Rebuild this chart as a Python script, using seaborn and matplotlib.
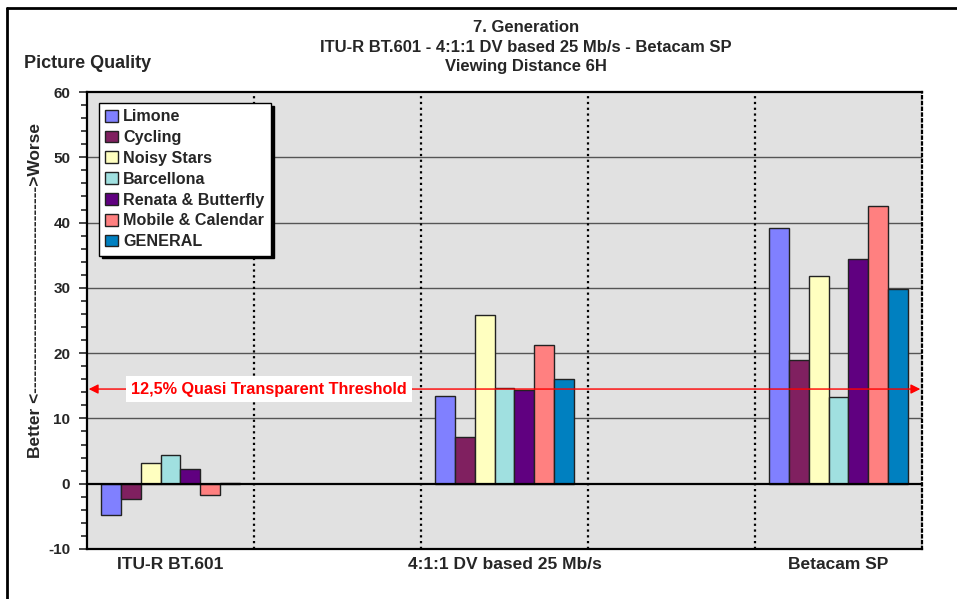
import matplotlib
matplotlib.use("Agg")
import matplotlib.pyplot as plt
import seaborn as sns
import pandas as pd
from matplotlib.ticker import MultipleLocator
from matplotlib.lines import Line2D

sns.set_style("white")
plt.rcParams['font.family'] = ['Liberation Sans', 'DejaVu Sans']
plt.rcParams['font.weight'] = 'bold'
plt.rcParams['axes.unicode_minus'] = False

# Data
formats = ['ITU-R BT.601', '4:1:1 DV based 25 Mb/s', 'Betacam SP']
sequences = ['Limone', 'Cycling', 'Noisy Stars', 'Barcellona',
             'Renata & Butterfly', 'Mobile & Calendar', 'GENERAL']
limone = [-4.8, 13.5, 39.1]
cycling = [-2.4, 7.1, 19.0]
noisy_stars = [3.2, 25.8, 31.8]
barcellona = [4.4, 14.6, 13.3]
renata = [2.2, 14.4, 34.4]
mobile = [-1.7, 21.2, 42.5]
general = [0.15, 16.0, 29.9]
threshold = 14.5
threshold_label = '12,5% Quasi Transparent Threshold'
colors = ['#8080FF', '#802060', '#FFFFC0', '#A0E0E0', '#600080', '#FF8080', '#0080C0']

series = [limone, cycling, noisy_stars, barcellona, renata, mobile, general]
rows = []
for name, vals in zip(sequences, series):
    for fmt, v in zip(formats, vals):
        rows.append({'format': fmt, 'sequence': name, 'value': v})
df = pd.DataFrame(rows)

# empty slots between the groups, like the original
order = [formats[0], ' ', formats[1], '  ', formats[2]]

fig = plt.figure(figsize=(9.57, 5.99), dpi=100)
ax = fig.add_axes([87/957, 50/599, 835/957, 457/599])
ax.set_facecolor('#E1E1E1')

sns.barplot(data=df, x='format', y='value', hue='sequence', order=order,
            hue_order=sequences, palette=colors, width=0.83, errorbar=None,
            edgecolor='#222222', linewidth=1, saturation=1, ax=ax, zorder=3)

ax.set_xlim(-0.5, 4.5)
ax.set_ylim(-10, 60)
ax.yaxis.set_major_locator(MultipleLocator(10))
ax.yaxis.set_minor_locator(MultipleLocator(2))
ax.tick_params(axis='y', which='major', direction='out', length=6, width=1.2,
               pad=6, labelsize=11, left=True)
ax.tick_params(axis='y', which='minor', direction='out', length=4, width=1.2, left=True)
ax.set_xticks(range(5))
ax.set_xticklabels([formats[0], '', formats[1], '', formats[2]], fontsize=12.5)
ax.tick_params(axis='x', length=0, pad=6)
ax.set_xlabel('')
ax.set_ylabel('')

for y in range(10, 60, 10):
    ax.axhline(y, color='#555555', lw=1, zorder=1)
ax.axhline(0, color='black', lw=1.6, zorder=4)
for x in [0.5, 1.5, 2.5, 3.5]:
    ax.axvline(x, color='black', lw=1.6, ls=(0, (1, 1.6)), zorder=2)

for side in ['left', 'top', 'bottom']:
    ax.spines[side].set_color('black')
    ax.spines[side].set_linewidth(1.6)
ax.spines['right'].set_linestyle((0, (1, 1.6)))
ax.spines['right'].set_linewidth(1.6)
ax.spines['right'].set_color('black')

# threshold arrow
ax.annotate('', xy=(-0.49, threshold), xytext=(4.49, threshold),
            arrowprops=dict(arrowstyle='<|-|>', color='#FF0000', lw=1,
                            mutation_scale=14, shrinkA=0, shrinkB=0), zorder=5)
ax.text(0.59, threshold, threshold_label, color='#FF0000', fontsize=11.7,
        fontweight='bold', ha='center', va='center', zorder=6,
        bbox=dict(facecolor='white', edgecolor='none', pad=4))

h, l = ax.get_legend_handles_labels()
leg = ax.legend(h, l, loc='upper left', bbox_to_anchor=(0.0144, 0.976),
                fontsize=11.6, frameon=True, fancybox=False, edgecolor='black',
                framealpha=1, borderaxespad=0, handlelength=0.75, handleheight=0.75,
                handletextpad=0.35, labelspacing=0.36, borderpad=0.4,
                shadow={'color': 'black', 'alpha': 1})
leg.get_frame().set_linewidth(1)
leg.set_zorder(10)

fig.text(24/957, 1 - 63/599, 'Picture Quality', fontsize=13, ha='left', va='center')
fig.text(526/957, 1 - 28/599, '7. Generation', fontsize=12, ha='center', va='center')
fig.text(526/957, 1 - 47/599, 'ITU-R BT.601 - 4:1:1 DV based 25 Mb/s - Betacam SP',
         fontsize=12, ha='center', va='center')
fig.text(526/957, 1 - 67/599, 'Viewing Distance 6H', fontsize=12, ha='center', va='center')
fig.text(36/957, 1 - 290/599, 'Better <' + '-' * 36 + '>Worse', fontsize=12.5,
         rotation=90, ha='center', va='center')

fig.add_artist(Line2D([7/957, 7/957], [0, 1 - 8/599], color='black', lw=2))
fig.add_artist(Line2D([7/957, 1], [1 - 8/599, 1 - 8/599], color='black', lw=2))

fig.savefig('out.png', dpi=100)
